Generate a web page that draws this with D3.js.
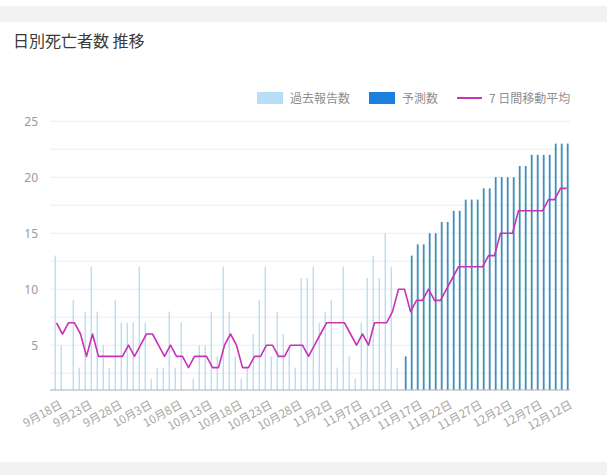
<!DOCTYPE html>
<html>
<head>
<meta charset="utf-8">
<script src="https://cdn.jsdelivr.net/npm/d3@7"></script>
<style>
  body { margin: 0; background: #fff; }
  svg { display: block; font-family: "Noto Sans CJK JP", "Noto Sans", sans-serif; }
</style>
</head>
<body>
<svg id="chart" width="607" height="475"></svg>
<script>
// data: one value per day from 9/18 to 12/12
const startDay = new Date(2020, 8, 18);
const pastReported = [13, 5, 1, 9, 3, 8, 12, 8, 5, 3,
    9, 7, 7, 7, 12, 7, 2, 3, 3, 8,
    3, 7, 1, 2, 5, 5, 8, 4, 12, 8,
    4, 2, 3, 6, 9, 12, 4, 8, 6, 5,
    3, 11, 11, 12, 7, 8, 9, 3, 12, 4,
    2, 7, 11, 13, 11, 15, 12, 3];
const forecast = [4, 13, 14, 14, 15, 15, 16, 16, 17, 17,
    18, 18, 18, 19, 19, 20, 20, 20, 20, 21,
    21, 22, 22, 22, 22, 23, 23, 23];
const movingAvg = [7, 6, 7, 7, 6, 4, 6, 4, 4, 4,
    4, 4, 5, 4, 5, 6, 6, 5, 4, 5,
    4, 4, 3, 4, 4, 4, 3, 3, 5, 6,
    5, 3, 3, 4, 4, 5, 5, 4, 4, 5,
    5, 5, 4, 5, 6, 7, 7, 7, 7, 6,
    5, 6, 5, 7, 7, 7, 8, 10, 10, 8,
    9, 9, 10, 9, 9, 10, 11, 12, 12, 12,
    12, 12, 13, 13, 15, 15, 15, 17, 17, 17,
    17, 17, 18, 18, 19, 19];
const yLabelTicks = [5, 10, 15, 20, 25];
const yGridTicks = [2.5, 5, 7.5, 10, 12.5, 15, 17.5, 20, 22.5, 25];
const legendItems = [
    { label: '過去報告数', kind: 'past' },
    { label: '予測数', kind: 'forecast' },
    { label: '7 日間移動平均', kind: 'avg' }
];

const colors = { past: '#b5dbef', pastKey: '#b8ddf6', forecast: '#3f8dbd', forecastKey: '#1a80dd', avg: '#c632b8' };

const days = d3.range(movingAvg.length).map(i => d3.timeDay.offset(startDay, i));
const fmt = d3.timeFormat('%-m月%-d日');

const svg = d3.select('#chart');

// grey bands above and below the card
svg.append('rect').attr('x', 0).attr('y', 6).attr('width', 607).attr('height', 16).attr('fill', '#f2f2f2');
svg.append('rect').attr('x', 0).attr('y', 462).attr('width', 607).attr('height', 13).attr('fill', '#f2f2f2');

svg.append('text')
    .attr('x', 13)
    .attr('y', 47)
    .attr('font-size', 16)
    .attr('fill', '#3a3a3a')
    .text('日別死亡者数 推移');

const x = d3.scaleBand()
    .domain(days)
    .range([53.5, 569.5]);
const y = d3.scaleLinear()
    .domain([1, 25])
    .range([390, 121.2]);
const cx = d => x(d) + x.bandwidth() / 2;

// grid
svg.append('g')
    .selectAll('line')
    .data(yGridTicks)
    .enter().append('line')
    .attr('x1', 50)
    .attr('x2', 570)
    .attr('y1', d => y(d))
    .attr('y2', d => y(d))
    .attr('stroke', '#ececec')
    .attr('stroke-width', 1);

const yAxis = svg.append('g')
    .attr('transform', 'translate(42,0)')
    .call(d3.axisLeft(y).tickValues(yLabelTicks).tickSize(0).tickPadding(4));
yAxis.select('.domain').remove();
yAxis.selectAll('text')
    .attr('font-size', 12)
    .attr('font-family', '"Noto Sans", sans-serif')
    .attr('fill', '#9a9a9a');

// bars
svg.append('g')
    .selectAll('rect')
    .data(pastReported)
    .enter().append('rect')
    .attr('x', (d, i) => cx(days[i]) - 1.9)
    .attr('width', 1.3)
    .attr('y', d => y(d))
    .attr('height', d => y(1) - y(d))
    .attr('fill', colors.past);

const offset = pastReported.length;
svg.append('g')
    .selectAll('rect')
    .data(forecast)
    .enter().append('rect')
    .attr('x', (d, i) => cx(days[i + offset]) + 0.3)
    .attr('width', 1.8)
    .attr('y', d => y(d))
    .attr('height', d => y(1) - y(d))
    .attr('fill', colors.forecast);

// moving average
const line = d3.line()
    .x((d, i) => cx(days[i]))
    .y(d => y(d));
svg.append('path')
    .datum(movingAvg)
    .attr('d', line)
    .attr('fill', 'none')
    .attr('stroke', colors.avg)
    .attr('stroke-width', 1.6)
    .attr('stroke-linejoin', 'round');

// x axis
svg.append('line')
    .attr('x1', 50).attr('x2', 570)
    .attr('y1', 390).attr('y2', 390)
    .attr('stroke', '#a8b0b4')
    .attr('stroke-width', 1.2);

const tickDays = days.filter((d, i) => i % 5 === 0);
svg.append('g')
    .selectAll('text')
    .data(tickDays)
    .enter().append('text')
    .attr('transform', d => `translate(${cx(d) + 2},399) rotate(-29)`)
    .attr('text-anchor', 'end')
    .attr('dy', '0.8em')
    .attr('font-size', 11.5)
    .attr('fill', '#a4a4a4')
    .text(d => fmt(d));

// legend
const legendX = [257, 369, 457];
const legend = svg.append('g')
    .selectAll('g')
    .data(legendItems)
    .enter().append('g')
    .attr('transform', (d, i) => `translate(${legendX[i]},92)`);
legend.each(function (d) {
    const g = d3.select(this);
    if (d.kind === 'avg') {
        g.append('line')
            .attr('x1', 0).attr('x2', 25)
            .attr('y1', 6).attr('y2', 6)
            .attr('stroke', colors.avg)
            .attr('stroke-width', 2);
        g.append('text').attr('x', 32).attr('y', 10.5);
    } else {
        g.append('rect')
            .attr('width', 26)
            .attr('height', 12)
            .attr('fill', d.kind === 'past' ? colors.pastKey : colors.forecastKey);
        g.append('text').attr('x', 33).attr('y', 10.5);
    }
    g.select('text')
        .attr('font-size', 12)
        .attr('fill', '#8f8f8f')
        .text(d.label);
});
</script>
</body>
</html>
